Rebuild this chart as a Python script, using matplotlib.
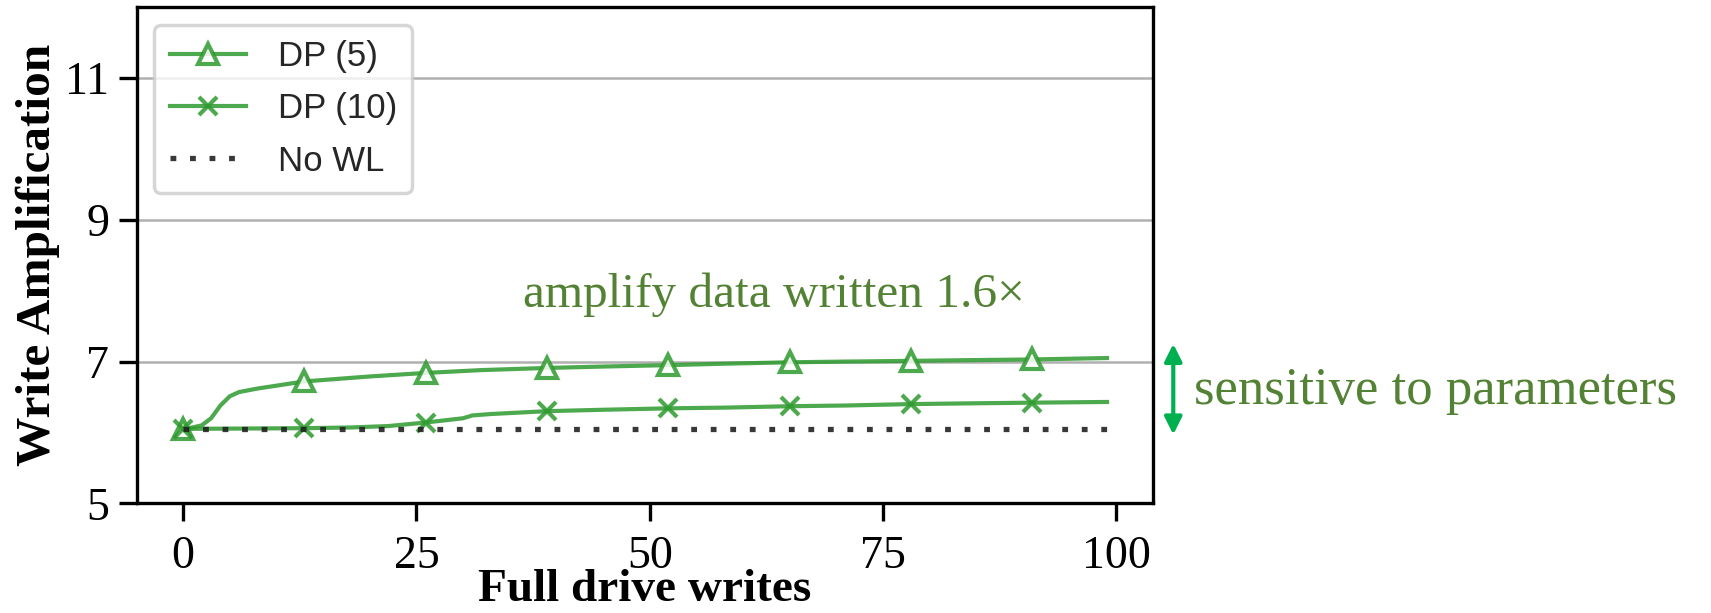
import matplotlib
matplotlib.use('Agg')
import matplotlib.pyplot as plt

# write amplification over full drive writes
x_dp5 = [0, 1, 2, 3, 4, 5, 6, 8, 10, 13, 16, 20, 26, 32, 39, 45, 52, 58, 65, 71, 78, 84, 91, 99]
y_dp5 = [6.05, 6.07, 6.10, 6.20, 6.38, 6.51, 6.57, 6.62, 6.66, 6.72, 6.75, 6.79, 6.84, 6.88,
         6.91, 6.93, 6.95, 6.97, 6.99, 7.00, 7.01, 7.02, 7.03, 7.05]

x_dp10 = [0, 13, 18, 22, 26, 28, 30, 31, 33, 36, 39, 45, 52, 58, 65, 71, 78, 84, 91, 99]
y_dp10 = [6.05, 6.06, 6.07, 6.09, 6.14, 6.17, 6.20, 6.24, 6.26, 6.28, 6.30, 6.32, 6.34, 6.35,
          6.37, 6.38, 6.40, 6.41, 6.42, 6.43]

x_nowl = [0, 99]
y_nowl = [6.05, 6.05]

marker_x = [0, 13, 26, 39, 52, 65, 78, 91]
xticks = [0, 25, 50, 75, 100]
yticks = [5, 7, 9, 11]

serif = 'Liberation Serif'
sans = 'Liberation Sans'
green = '#2e9a2e'
note_green = '#548235'


def draw():
    fig = plt.figure(figsize=(17.11, 6.13), dpi=100)
    ax = fig.add_axes([0.080, 0.179, 0.594, 0.809])

    ax.plot(x_dp5, y_dp5, color=green, alpha=0.85, lw=3, marker='^', ms=14, mew=3,
            mfc='white', markevery=[x_dp5.index(v) for v in marker_x], label='DP (5)')
    ax.plot(x_dp10, y_dp10, color=green, alpha=0.85, lw=3, marker='x', ms=13, mew=3,
            markevery=[x_dp10.index(v) for v in marker_x], label='DP (10)')
    ax.plot(x_nowl, y_nowl, color='#222222', alpha=0.9, lw=3.8, dashes=(1.1, 2.6),
            label='No WL', zorder=3)

    ax.set_xlim(-4.95, 103.95)
    ax.set_ylim(5, 12)
    ax.set_xticks(xticks)
    ax.set_yticks(yticks)
    ax.yaxis.grid(True, color='#b0b0b0', lw=1.8)
    ax.set_axisbelow(True)

    for s in ax.spines.values():
        s.set_linewidth(2.4)
        s.set_color('black')
    ax.tick_params(axis='both', direction='out', length=13, width=2.4, labelsize=33)
    ax.tick_params(axis='x', pad=10)
    ax.tick_params(axis='y', pad=7)
    for lab in ax.get_xticklabels() + ax.get_yticklabels():
        lab.set_family(serif)

    ax.set_xlabel('Full drive writes', family=serif, weight='bold', fontsize=34, labelpad=-6)
    ax.set_ylabel('Write Amplification', family=serif, weight='bold', fontsize=35.5, labelpad=4)

    leg = ax.legend(loc='upper left', prop={'family': sans, 'size': 25}, handlelength=2.2,
                    borderpad=0.45, labelspacing=0.55, handletextpad=0.9,
                    fancybox=True, framealpha=0.8)
    leg.get_frame().set_edgecolor('#cccccc')
    leg.get_frame().set_linewidth(2.5)
    for t in leg.get_texts():
        t.set_color('#262626')

    ax.text(63.3, 7.95, 'amplify data written 1.6\u00d7', family=serif, fontsize=35.5,
            color=note_green, ha='center', va='center')
    ax.annotate('', xy=(106.1, 5.97), xytext=(106.1, 7.25), xycoords='data',
                annotation_clip=False,
                arrowprops=dict(arrowstyle='<|-|>', color='#00b050', lw=3,
                                mutation_scale=26, shrinkA=0, shrinkB=0))
    ax.text(108.3, 6.58, 'sensitive to parameters', family=serif, fontsize=38,
            color=note_green, ha='left', va='center', clip_on=False)

    fig.savefig('out.png', dpi=100)


if __name__ == '__main__':
    draw()
